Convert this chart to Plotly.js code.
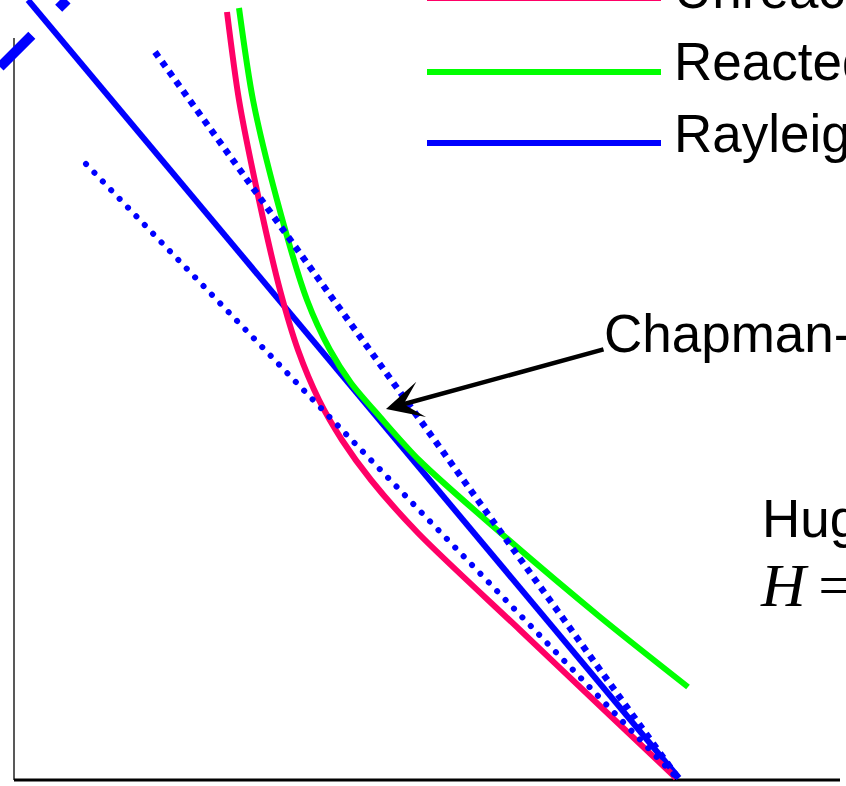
<!DOCTYPE html>
<html><head><meta charset="utf-8">
<script src="https://cdn.plot.ly/plotly-3.0.1.min.js"></script>
<style>html,body{margin:0;padding:0;background:#fff;overflow:hidden}</style>
</head><body>
<div id="chart" style="width:846px;height:786px"></div>
<script>
// Unreacted Hugoniot (specific volume v, pressure p; arbitrary units)
const unreactedV = [2.13, 2.25, 2.45, 2.66, 2.84, 3.05, 3.28, 3.57, 4.04, 5.06, 5.86, 6.62];
const unreactedP = [7.68, 6.80, 5.80, 4.90, 4.30, 3.80, 3.40, 3.00, 2.47, 1.50, 0.74, 0.02];
// Reacted Hugoniot
const reactedV = [2.25, 2.39, 2.63, 2.93, 3.16, 3.37, 3.66, 4.06, 4.89, 5.86, 6.74];
const reactedP = [7.72, 6.80, 5.80, 4.80, 4.30, 3.97, 3.63, 3.19, 2.45, 1.63, 0.93];
// Rayleigh lines (through the initial state)
const rayleighCJV = [0.14, 6.65];
const rayleighCJP = [7.80, 0.02];
const rayleighWeakV = [0.72, 6.63];
const rayleighWeakP = [6.16, 0.02];
const rayleighStrongV = [1.41, 6.64];
const rayleighStrongP = [7.28, 0.02];
const extraLineV = [-0.14, 0.53];
const extraLineP = [7.13, 7.80];
// Chapman-Jouguet point (arrow head) and label anchor
const cjPoint = [3.72, 3.71];
const cjLabelTail = [5.91, 4.31];
// Text
const legendLabels = ["Unreacted Hugoniot", "Reacted Hugoniot", "Rayleigh line"];
const cjLabel = "Chapman-Jouguet point";
const hugLabel = "Hugoniot";
const hugEq = "<i>H</i>\u2009=\u20090";

const W = 846, H = 786;
const fx = px => px / W, fy = py => 1 - py / H;
const RED = "#FF0066", GREEN = "#00FF00", BLUE = "#0000FF";
const FONT = "Liberation Sans, Arial, sans-serif";

const traces = [
  {x: rayleighCJV, y: rayleighCJP, mode: "lines", line: {color: BLUE, width: 6}},
  {x: unreactedV, y: unreactedP, mode: "lines", line: {color: RED, width: 6, shape: "spline", smoothing: 0.8}},
  {x: reactedV, y: reactedP, mode: "lines", line: {color: GREEN, width: 6, shape: "spline", smoothing: 0.8}},
  {x: rayleighWeakV, y: rayleighWeakP, mode: "lines", line: {color: BLUE, width: 6, dash: "0.1px,12px"}},
  {x: rayleighStrongV, y: rayleighStrongP, mode: "lines", line: {color: BLUE, width: 6.5, dash: "6px,6px"}},
  {x: extraLineV, y: extraLineP, mode: "lines", line: {color: BLUE, width: 10, dash: "45px,38px"}}
].map(t => Object.assign(t, {showlegend: false, hoverinfo: "skip"}));

const legendColors = [RED, GREEN, BLUE];
const legendY = [-2, 72, 143];
const legendTextY = [-10, 61, 133];

const shapes = [
  {type: "line", xref: "x", yref: "y", x0: 0, x1: 0, y0: 0, y1: 7.42, line: {color: "#222", width: 1.5}, layer: "below"},
  {type: "line", xref: "x", yref: "y", x0: 0, x1: 8.26, y0: 0, y1: 0, line: {color: "#000", width: 3}, layer: "below"}
];
legendColors.forEach((c, i) => shapes.push({type: "line", xref: "paper", yref: "paper",
  x0: fx(427), x1: fx(661), y0: fy(legendY[i]), y1: fy(legendY[i]), line: {color: c, width: 6}}));

const annotations = legendLabels.map((t, i) => ({xref: "paper", yref: "paper", x: fx(672), y: fy(legendTextY[i]),
  xanchor: "left", yanchor: "middle", text: t, showarrow: false, font: {family: FONT, size: 53, color: "#000"}}));
annotations.push({xref: "paper", yref: "paper", x: fx(602), y: fy(333), xanchor: "left", yanchor: "middle",
  text: cjLabel, showarrow: false, font: {family: FONT, size: 53, color: "#000"}});
annotations.push({xref: "paper", yref: "paper", x: fx(760), y: fy(518), xanchor: "left", yanchor: "middle",
  text: hugLabel, showarrow: false, font: {family: FONT, size: 53, color: "#000"}});
annotations.push({xref: "paper", yref: "paper", x: fx(758), y: fy(585), xanchor: "left", yanchor: "middle",
  text: hugEq, showarrow: false, font: {family: "Liberation Serif, Times New Roman, serif", size: 62, color: "#000"}});
annotations.push({xref: "x", yref: "y", axref: "x", ayref: "y", x: cjPoint[0], y: cjPoint[1],
  ax: cjLabelTail[0], ay: cjLabelTail[1], text: "", showarrow: true, arrowhead: 3, arrowsize: 1.35,
  arrowwidth: 4.5, arrowcolor: "#000", standoff: 0});

const layout = {
  width: W, height: H, margin: {l: 0, r: 0, t: 0, b: 0},
  paper_bgcolor: "#fff", plot_bgcolor: "#fff",
  xaxis: {range: [-0.14, 8.32], visible: false, fixedrange: true},
  yaxis: {range: [-0.06, 7.80], visible: false, fixedrange: true},
  shapes: shapes, annotations: annotations, showlegend: false
};

Plotly.newPlot("chart", traces, layout, {staticPlot: true}).then(() => {
  const tr = document.querySelectorAll(".scatterlayer .trace");
  const p = tr[3] && tr[3].querySelector("path.js-line");
  if (p) p.style.strokeLinecap = "round";
});
</script>
</body></html>
